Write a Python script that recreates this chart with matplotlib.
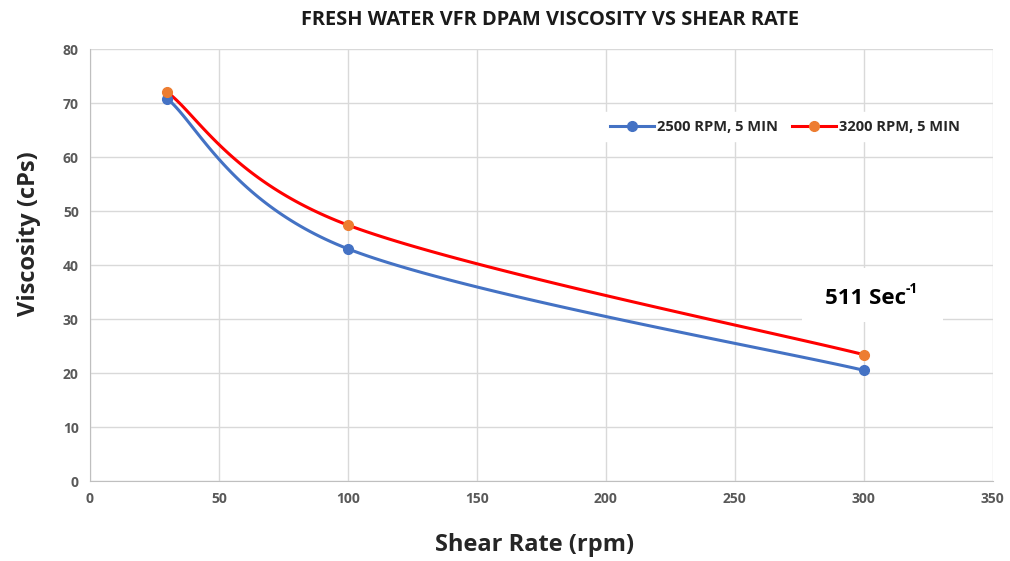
import numpy as np
import matplotlib

matplotlib.use("Agg")
import matplotlib.pyplot as plt
from matplotlib.patches import Rectangle

plt.rcParams["font.family"] = ["Open Sans", "DejaVu Sans"]

shear_rate = [30, 100, 300]
visc_2500 = [70.8, 43.0, 20.5]
visc_3200 = [72.0, 47.4, 23.4]
series_labels = ["2500 RPM, 5 MIN", "3200 RPM, 5 MIN"]


def smooth(xs, ys, n=60):
    # Excel-style smoothed line: cubic Bezier through the points
    pts = np.column_stack([xs, ys]).astype(float)
    out = [pts[0]]
    for i in range(len(pts) - 1):
        p0 = pts[i - 1] if i > 0 else pts[i]
        p1, p2 = pts[i], pts[i + 1]
        p3 = pts[i + 2] if i + 2 < len(pts) else pts[i + 1]
        c1 = p1 + (p2 - p0) / 6
        c2 = p2 - (p3 - p1) / 6
        t = np.linspace(0, 1, n)[1:, None]
        seg = ((1 - t) ** 3) * p1 + 3 * ((1 - t) ** 2) * t * c1 + 3 * (1 - t) * t ** 2 * c2 + t ** 3 * p2
        out.extend(seg)
    out = np.array(out)
    return out[:, 0], out[:, 1]


fig = plt.figure(figsize=(10.1, 5.61), dpi=100)
ax = fig.add_axes([0.089, 0.1426, 0.894, 0.770])

styles = [("#4472C4", "#4472C4"), ("#FF0000", "#ED7D31")]
for ys, label, (lc, mc) in zip([visc_2500, visc_3200], series_labels, styles):
    sx, sy = smooth(shear_rate, ys)
    ax.plot(sx, sy, color=lc, lw=2.2, zorder=3)
    ax.plot(shear_rate, ys, "o", color=mc, ms=7, zorder=4)
    ax.plot([], [], color=lc, lw=2.2, marker="o", mfc=mc, mec=mc, ms=7, label=label)

ax.set_xlim(0, 350)
ax.set_ylim(0, 80)
ax.set_xticks(np.arange(0, 351, 50))
ax.set_yticks(np.arange(0, 81, 10))
ax.grid(True, color="#D9D9D9", lw=1)
ax.set_axisbelow(True)
for side in ["top", "right"]:
    ax.spines[side].set_visible(False)
for side in ["left", "bottom"]:
    ax.spines[side].set_color("#BFBFBF")
ax.tick_params(length=0, labelsize=10, labelcolor="#595959", pad=8)
for lbl in ax.get_xticklabels() + ax.get_yticklabels():
    lbl.set_fontweight("bold")

ax.set_xlabel("Shear Rate (rpm)", fontsize=17, fontweight="bold", color="#262626", labelpad=19)
ax.set_ylabel("Viscosity (cPs)", fontsize=17, fontweight="bold", color="#262626", labelpad=16)
ax.xaxis.label.set_x(0.493)
ax.yaxis.label.set_y(0.572)
fig.text(0.545, 0.965, "FRESH WATER VFR DPAM VISCOSITY VS SHEAR RATE", ha="center", va="center",
         fontsize=14.4, fontweight="bold", color="#1a1a1a")

leg = ax.legend(loc="upper left", bbox_to_anchor=(0.56, 0.87), ncol=2, frameon=True,
                fancybox=False, edgecolor="white", framealpha=1, handlelength=3.0,
                columnspacing=1.0, handletextpad=0.2, borderpad=0.5,
                prop={"weight": "bold", "size": 10.5})
for t in leg.get_texts():
    t.set_color("#262626")

# white label box for the shear rate note
ax.add_patch(Rectangle((276, 29.4), 54.6, 10.0, fc="white", ec="none", zorder=2.5))
note = ax.text(300.5, 33.8, "511 Sec", ha="center", va="center", fontsize=16,
               fontweight="bold", color="#000000", zorder=5)
ax.annotate("-1", xy=(1.0, 0.95), xycoords=note, ha="left", va="center",
            fontsize=10, fontweight="bold", color="#000000", zorder=6)

fig.savefig("out.png", dpi=100)
